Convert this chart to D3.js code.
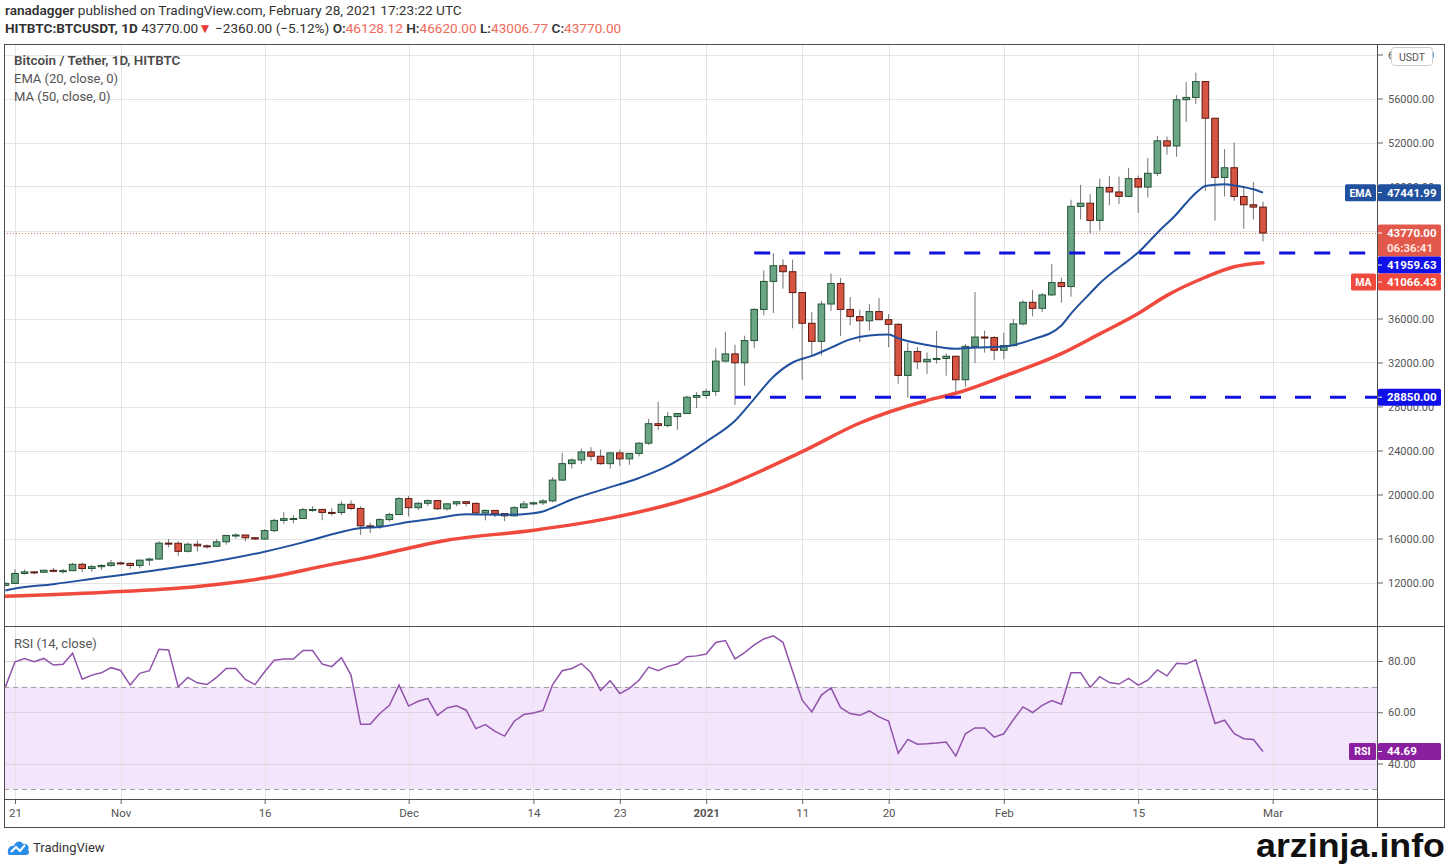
<!DOCTYPE html>
<html>
<head>
<meta charset="utf-8">
<script src="https://cdn.jsdelivr.net/npm/d3@7"></script>
<style>
  html, body { margin: 0; padding: 0; background: #fff; }
  svg { display: block; font-family: Roboto, "Open Sans", sans-serif; }
</style>
</head>
<body>
<svg id="chart" width="1450" height="864"></svg>
<script>
"use strict";

// ---- Data ----
// daily candles, 2020-10-20 .. 2021-02-28
var opens = [
  11742, 11916, 12823, 12965, 12931, 13108, 13031, 13075, 13654, 13271, 13437, 13546,
  13781, 13737, 13550, 14031, 14133, 15579, 15565, 14833, 15479, 15332, 15290, 15701, 16276, 16317, 16068, 15955, 16716, 17645, 17804, 17817, 18621, 18642, 18370, 18364, 19107, 18732, 17150, 17139, 17719, 18184,
  19625, 18802, 19202, 19445, 18699, 19154, 19346, 19191, 18321, 18553, 18264, 18058, 18803, 19142, 19246, 19417, 21310, 22805, 23138, 23869, 23477, 22803, 23783, 23241, 23735, 24664, 26437, 26272, 27084, 27362, 28841,
  29001, 29374, 32127, 32782, 31971, 33992, 36824, 39371, 40797, 40254, 38356, 35566, 33922, 37316, 39187, 36825, 36178, 35792, 36631, 35891, 35468, 30825, 33005, 32067, 32289, 32366, 32569, 30432, 33466, 34316, 34269,
  33114, 33537, 35510, 37472, 36926, 38144, 39266, 38903, 46196, 46481, 44918, 47909, 47504, 47105, 48717, 47945, 49199, 52149, 51679, 55888, 56099, 57539, 54207, 48824, 49705, 47093, 46339, 46128.12
];
var highs = [
  11999, 13217, 13185, 13027, 13160, 13330, 13235, 13775, 13837, 13612, 13663, 14060,
  13897, 13814, 14067, 14243, 15750, 15955, 15765, 15645, 15833, 15460, 15944, 16319, 16480, 16317, 16134, 16848, 17811, 18393, 18119, 18773, 18936, 18700, 18746, 19390, 19459, 18915, 17450, 17850, 18339, 19750,
  19863, 19283, 19555, 19500, 19178, 19412, 19400, 19296, 18640, 18569, 18285, 18948, 19411, 19349, 19570, 21560, 23800, 23285, 24170, 24295, 24102, 23842, 24100, 23770, 24760, 26880, 28422, 27500, 27400, 28996, 29300,
  29600, 33300, 34792, 33600, 34437, 36939, 40365, 41950, 41380, 41350, 38356, 36600, 37600, 40100, 39700, 37950, 36800, 37300, 37850, 36400, 35600, 33800, 33400, 32900, 34875, 32800, 32570, 33700, 38406, 34900, 34400,
  34700, 35950, 37650, 38600, 38300, 40955, 39700, 46800, 48142, 47310, 48700, 48950, 48900, 49700, 49000, 50600, 52600, 52550, 56300, 57500, 58350, 57539, 54207, 51400, 52000, 48000, 48400, 46620
];
var lows = [
  11690, 11900, 12717, 12733, 12903, 12915, 12800, 13063, 12932, 12983, 13145, 13426,
  13632, 13243, 13296, 13529, 14093, 15198, 14423, 14725, 14805, 15085, 15290, 15437, 15991, 15749, 15868, 15880, 16564, 17352, 17382, 17761, 18430, 17657, 18068, 18120, 18600, 16330, 16500, 16880, 17554, 18178,
  18001, 18585, 18945, 18600, 18550, 18925, 18928, 18205, 17650, 17950, 17575, 18021, 18721, 19000, 19050, 19300, 21230, 22350, 22750, 23060, 22700, 22350, 22600, 22700, 23460, 24520, 25850, 26100, 25880, 27320, 27850,
  28700, 28950, 32000, 28130, 29900, 33288, 36300, 36500, 38720, 35110, 30420, 32500, 32650, 36700, 34400, 35400, 33850, 34900, 35850, 33400, 30071, 28800, 31400, 30950, 31900, 30800, 29240, 29800, 31950, 32900, 32200,
  32300, 33450, 35370, 36200, 36600, 38050, 37446, 37990, 45000, 43727, 43990, 46300, 46400, 47060, 45600, 47000, 48950, 50900, 50700, 53860, 55500, 47600, 44900, 47100, 46700, 44150, 45000, 43006.77
];
var closes = [
  11916, 12823, 12965, 12931, 13108, 13031, 13075, 13654, 13271, 13437, 13546, 13781,
  13737, 13550, 14031, 14133, 15579, 15565, 14833, 15479, 15332, 15290, 15701, 16276, 16317, 16068, 15955, 16716, 17645, 17804, 17817, 18621, 18642, 18370, 18364, 19107, 18732, 17150, 17139, 17719, 18184, 19625,
  18802, 19202, 19445, 18699, 19154, 19346, 19191, 18321, 18553, 18264, 18058, 18803, 19142, 19246, 19417, 21310, 22805, 23138, 23869, 23477, 22803, 23783, 23241, 23735, 24664, 26437, 26272, 27084, 27362, 28841, 29001,
  29374, 32127, 32782, 31971, 33992, 36824, 39371, 40797, 40254, 38356, 35566, 33922, 37316, 39187, 36825, 36178, 35792, 36631, 35891, 35468, 30825, 33005, 32067, 32289, 32366, 32569, 30432, 33466, 34316, 34269, 33114,
  33537, 35510, 37472, 36926, 38144, 39266, 38903, 46196, 46481, 44918, 47909, 47504, 47105, 48717, 47945, 49199, 52149, 51679, 55888, 56099, 57539, 54207, 48824, 49705, 47093, 46339, 46128.12, 43770
];
// RSI (14, close), one value per candle
var rsiValues = [
  69.9, 79.7, 81, 79.7, 81, 78.4, 78.7, 83, 72.9, 74.5, 75.4, 77.4,
  76.3, 70.6, 75.2, 76.2, 84.6, 84.3, 69.9, 73.6, 71.5, 70.8, 73.6, 77.1, 77.1, 72.8, 70.8, 75.8, 80.3, 80.8, 80.8, 84.1, 84.1, 78.8, 77.8, 81.3, 74.5, 55.3, 55.3, 59.5, 62.7, 70.6,
  62.4, 64.3, 65.4, 58.8, 61.7, 62.5, 60.8, 53.6, 55.2, 52.5, 50.7, 56.5, 59.1, 59.7, 60.7, 70.8, 76.2, 77.1, 79, 75.4, 68.5, 72.3, 67.3, 69.3, 72.5, 77.6, 76.2, 77.9, 78.8, 81.7, 82,
  82.7, 87.2, 88, 80.8, 83.3, 86.3, 88.6, 89.8, 87.3, 76, 64.7, 60.1, 66.7, 69.5, 61.8, 59.5, 58.8, 60.5, 58.2, 56.6, 44, 49.4, 47.5, 47.7, 48, 48.4, 42.9, 51.6, 53.9, 53.9, 50.3,
  51.6, 57.1, 62.1, 59.9, 62.7, 64.6, 63.1, 75.4, 75.4, 69.7, 73.9, 71.6, 71, 73.2, 70.6, 72.5, 76.5, 74.2, 79.1, 78.8, 80.5, 68, 55.6, 56.9, 51.6, 49.7, 49.4, 44.69
];
// EMA (20) read at points along the blue line
var emaPoints = [
  ["2020-10-20", 11270], ["2020-10-21", 11450], ["2020-10-25", 11850], ["2020-10-30", 12450],
  ["2020-11-03", 12900], ["2020-11-05", 13150], ["2020-11-09", 13650], ["2020-11-16", 14800],
  ["2020-11-20", 15650], ["2020-11-24", 16600], ["2020-11-26", 16950], ["2020-11-28", 17050],
  ["2020-12-01", 17500], ["2020-12-04", 17850], ["2020-12-07", 18200], ["2020-12-11", 18150],
  ["2020-12-14", 18300], ["2020-12-15", 18450], ["2020-12-16", 18800], ["2020-12-18", 19550],
  ["2020-12-21", 20400], ["2020-12-25", 21500], ["2020-12-28", 22600], ["2020-12-31", 24200],
  ["2021-01-01", 24800], ["2021-01-04", 26700], ["2021-01-06", 28700], ["2021-01-08", 30700],
  ["2021-01-10", 32000], ["2021-01-12", 32600], ["2021-01-14", 33350], ["2021-01-16", 34100],
  ["2021-01-18", 34450], ["2021-01-20", 34550], ["2021-01-21", 34200], ["2021-01-24", 33600],
  ["2021-01-27", 33250], ["2021-01-29", 33360], ["2021-02-01", 33450], ["2021-02-04", 34100],
  ["2021-02-07", 35360], ["2021-02-08", 36450], ["2021-02-10", 38300], ["2021-02-11", 39200],
  ["2021-02-14", 41300], ["2021-02-15", 42000], ["2021-02-17", 43800], ["2021-02-19", 45500],
  ["2021-02-20", 46500], ["2021-02-21", 47400], ["2021-02-22", 48050], ["2021-02-23", 48150],
  ["2021-02-24", 48200], ["2021-02-25", 48100], ["2021-02-26", 47950], ["2021-02-27", 47750],
  ["2021-02-28", 47441.99]
];
// MA (50) read at points along the red line
var maPoints = [
  ["2020-10-20", 10750], ["2020-10-30", 11100], ["2020-11-09", 11640], ["2020-11-16", 12400],
  ["2020-11-23", 13650], ["2020-11-26", 14150], ["2020-12-05", 15850], ["2020-12-14", 16750],
  ["2020-12-22", 17850], ["2020-12-29", 19300], ["2021-01-01", 20100], ["2021-01-11", 23900],
  ["2021-01-17", 26500], ["2021-01-24", 28550], ["2021-01-27", 29200], ["2021-02-01", 30750],
  ["2021-02-07", 32800], ["2021-02-11", 34600], ["2021-02-15", 36450], ["2021-02-18", 38100],
  ["2021-02-22", 39750], ["2021-02-25", 40700], ["2021-02-28", 41066.43]
];
// drawn horizontal levels: [start date, price]
var levels = [["2021-01-06", 41959.63], ["2021-01-04", 28850]];
var lastPrice = 43770;
var countdown = "06:36:41";

var priceTicks = [12000, 16000, 20000, 24000, 28000, 32000, 36000, 40000, 44000, 48000, 52000, 56000, 60000];
var hiddenPriceLabels = [40000, 44000];   // covered by the price tags
var rsiTicks = [40, 60, 80];
var timeTickDates = ["2020-10-21", "2020-11-01", "2020-11-16", "2020-12-01", "2020-12-14", "2020-12-23",
                     "2021-01-01", "2021-01-11", "2021-01-20", "2021-02-01", "2021-02-15", "2021-03-01"];
var timeTickLabels = ["21", "Nov", "16", "Dec", "14", "23", "2021", "11", "20", "Feb", "15", "Mar"];

// ---- Layout ----
var left = 4, paneRight = 1377, right = 1445;
var mainTop = 44, mainBottom = 626, rsiBottom = 799, axisBottom = 827;

var parse = d3.utcParse("%Y-%m-%d");
var start = parse("2020-10-20"), end = parse("2021-02-28");
var days = d3.utcDay.range(start, d3.utcDay.offset(end, 1));

var x = d3.scaleUtc().domain([start, end]).range([5.4, 1263]);
var y = d3.scaleLinear().domain([12000, 56000]).range([582.5, 98.5]);
var yRsi = d3.scaleLinear().domain([40, 80]).range([763.5, 661]);
var fmt = d3.format(".2f");

var svg = d3.select("#chart");
var defs = svg.append("defs");
defs.append("clipPath").attr("id", "clipMain").append("rect")
    .attr("x", left).attr("y", mainTop).attr("width", paneRight - left).attr("height", mainBottom - mainTop);
defs.append("clipPath").attr("id", "clipRsi").append("rect")
    .attr("x", left).attr("y", mainBottom).attr("width", paneRight - left).attr("height", rsiBottom - mainBottom);

// ---- Header ----
var h1 = svg.append("text").attr("x", 5).attr("y", 15).attr("font-size", 13.6).attr("fill", "#333");
h1.append("tspan").attr("font-weight", 600).text("ranadagger");
h1.append("tspan").text(" published on TradingView.com, February 28, 2021 17:23:22 UTC");

var h2 = svg.append("text").attr("x", 5).attr("y", 33).attr("font-size", 13.6).attr("fill", "#333");
var redTxt = "#f0695a";
h2.append("tspan").attr("font-weight", 700).text("HITBTC:BTCUSDT, 1D");
h2.append("tspan").text(" " + fmt(lastPrice));
h2.append("tspan").attr("fill", "#e53935").text("\u25BC");
h2.append("tspan").text(" \u22122360.00 (\u22125.12%)");
[["O:", opens[opens.length - 1]], ["H:", highs[highs.length - 1]], ["L:", lows[lows.length - 1]], ["C:", closes[closes.length - 1]]]
  .forEach(function(p) {
    h2.append("tspan").attr("font-weight", 600).text(" " + p[0]);
    h2.append("tspan").attr("fill", redTxt).text(fmt(p[1]));
  });

// ---- Background panes ----
var gMain = svg.append("g").attr("clip-path", "url(#clipMain)");
var gRsi = svg.append("g").attr("clip-path", "url(#clipRsi)");

// RSI band
gRsi.append("rect")
    .attr("x", left).attr("width", paneRight - left)
    .attr("y", yRsi(70)).attr("height", yRsi(30) - yRsi(70))
    .attr("fill", "#f3e5fb");

// grid
var grid = "#e4e4e4";
gMain.selectAll("line.hg").data(priceTicks).join("line")
    .attr("x1", left).attr("x2", paneRight)
    .attr("y1", function(d) { return Math.round(y(d)) + 0.5; })
    .attr("y2", function(d) { return Math.round(y(d)) + 0.5; })
    .attr("stroke", grid);
gRsi.selectAll("line.hg").data(rsiTicks).join("line")
    .attr("x1", left).attr("x2", paneRight)
    .attr("y1", function(d) { return Math.round(yRsi(d)) + 0.5; })
    .attr("y2", function(d) { return Math.round(yRsi(d)) + 0.5; })
    .attr("stroke", "#dcd3e2");
[gMain, gRsi].forEach(function(g) {
  g.selectAll("line.vg").data(timeTickDates).join("line")
      .attr("x1", function(d) { return Math.round(x(parse(d))) + 0.5; })
      .attr("x2", function(d) { return Math.round(x(parse(d))) + 0.5; })
      .attr("y1", mainTop).attr("y2", rsiBottom)
      .attr("stroke", grid);
});
gRsi.selectAll("line.band").data([70, 30]).join("line")
    .attr("x1", left).attr("x2", paneRight)
    .attr("y1", function(d) { return Math.round(yRsi(d)) + 0.5; })
    .attr("y2", function(d) { return Math.round(yRsi(d)) + 0.5; })
    .attr("stroke", "#a3a3a3").attr("stroke-dasharray", "5,4");

// last price dotted line
gMain.append("line")
    .attr("x1", left).attr("x2", paneRight)
    .attr("y1", Math.round(y(lastPrice)) + 0.5).attr("y2", Math.round(y(lastPrice)) + 0.5)
    .attr("stroke", "#e0735b").attr("stroke-dasharray", "1,2");

// ---- Candles ----
var bars = days.map(function(d, i) {
  return { date: d, o: opens[i], h: highs[i], l: lows[i], c: closes[i] };
});
var bodyW = 6.6;
var cg = gMain.selectAll("g.candle").data(bars).join("g");
cg.append("line")
    .attr("x1", function(d) { return x(d.date); })
    .attr("x2", function(d) { return x(d.date); })
    .attr("y1", function(d) { return y(d.h); })
    .attr("y2", function(d) { return y(d.l); })
    .attr("stroke", "#737375").attr("stroke-width", 1);
cg.append("rect")
    .attr("x", function(d) { return x(d.date) - bodyW / 2; })
    .attr("width", bodyW)
    .attr("y", function(d) { return y(Math.max(d.o, d.c)); })
    .attr("height", function(d) { return Math.max(1, Math.abs(y(d.o) - y(d.c))); })
    .attr("fill", function(d) { return d.c >= d.o ? "#6ba583" : "#d75442"; })
    .attr("stroke", function(d) { return d.c >= d.o ? "#225437" : "#5b1a13"; })
    .attr("stroke-width", 1);

// ---- Moving averages ----
var maLine = d3.line()
    .x(function(d) { return x(parse(d[0])); })
    .y(function(d) { return y(d[1]); })
    .curve(d3.curveMonotoneX);
gMain.append("path").attr("d", maLine(maPoints))
    .attr("fill", "none").attr("stroke", "#ef4a3d").attr("stroke-width", 3.5).attr("stroke-linecap", "round");
gMain.append("path").attr("d", maLine(emaPoints))
    .attr("fill", "none").attr("stroke", "#21509e").attr("stroke-width", 2);

// dashed levels
gMain.selectAll("line.lvl").data(levels).join("line")
    .attr("x1", function(d) { return x(parse(d[0])); })
    .attr("x2", paneRight)
    .attr("y1", function(d) { return y(d[1]); })
    .attr("y2", function(d) { return y(d[1]); })
    .attr("stroke", "#1111dd").attr("stroke-width", 3).attr("stroke-dasharray", "16,19");

// ---- RSI line ----
var rsiLine = d3.line()
    .x(function(d, i) { return x(days[i]); })
    .y(function(d) { return yRsi(d); });
gRsi.append("path").attr("d", rsiLine(rsiValues))
    .attr("fill", "none").attr("stroke", "#9152ab").attr("stroke-width", 1.5);

// ---- Legends ----
svg.append("text").attr("x", 14).attr("y", 65).attr("font-size", 13.4).attr("font-weight", 600)
    .attr("fill", "#4a4a4a").text("Bitcoin / Tether, 1D, HITBTC");
svg.append("text").attr("x", 14).attr("y", 83).attr("font-size", 13).attr("fill", "#555")
    .text("EMA (20, close, 0)");
svg.append("text").attr("x", 14).attr("y", 101).attr("font-size", 13).attr("fill", "#555")
    .text("MA (50, close, 0)");
svg.append("text").attr("x", 14).attr("y", 648).attr("font-size", 13).attr("fill", "#555")
    .text("RSI (14, close)");

// ---- Frame ----
var frame = "#4d4d4d";
svg.append("rect").attr("x", left + 0.5).attr("y", mainTop + 0.5)
    .attr("width", right - left - 1).attr("height", axisBottom - mainTop)
    .attr("fill", "none").attr("stroke", frame);
svg.append("line").attr("x1", paneRight + 0.5).attr("x2", paneRight + 0.5)
    .attr("y1", mainTop).attr("y2", axisBottom).attr("stroke", frame);
svg.append("line").attr("x1", left).attr("x2", right)
    .attr("y1", mainBottom + 0.5).attr("y2", mainBottom + 0.5).attr("stroke", frame);
svg.append("line").attr("x1", left).attr("x2", right)
    .attr("y1", rsiBottom + 0.5).attr("y2", rsiBottom + 0.5).attr("stroke", frame);

// ---- Price axis ----
var yAxis = d3.axisRight(y).tickValues(priceTicks)
    .tickFormat(function(d) { return hiddenPriceLabels.indexOf(d) >= 0 ? "" : fmt(d); })
    .tickSize(5).tickPadding(5);
var ga = svg.append("g").attr("transform", "translate(" + (paneRight + 1) + ",0)").call(yAxis);
ga.select(".domain").remove();
ga.selectAll("line").attr("stroke", "#666");
ga.selectAll("text").attr("font-size", 11).attr("fill", "#555").attr("font-family", "Roboto, sans-serif");

var rAxis = d3.axisRight(yRsi).tickValues(rsiTicks).tickFormat(fmt).tickSize(5).tickPadding(5);
var gr = svg.append("g").attr("transform", "translate(" + (paneRight + 1) + ",0)").call(rAxis);
gr.select(".domain").remove();
gr.selectAll("line").attr("stroke", "#666");
gr.selectAll("text").attr("font-size", 11).attr("fill", "#555").attr("font-family", "Roboto, sans-serif");

// ---- Time axis ----
var xAxis = d3.axisBottom(x).tickValues(timeTickDates.map(parse))
    .tickFormat(function(d, i) { return timeTickLabels[i]; })
    .tickSize(4).tickPadding(5);
var gx = svg.append("g").attr("transform", "translate(0," + (rsiBottom + 1) + ")").call(xAxis);
gx.select(".domain").remove();
gx.selectAll("line").attr("stroke", "#666");
gx.selectAll("text").attr("font-size", 11.5).attr("fill", "#555").attr("font-family", "Roboto, sans-serif")
    .attr("font-weight", function(d, i) { return timeTickLabels[i] === "2021" ? 700 : 400; });

// USDT box
svg.append("rect").attr("x", 1391.5).attr("y", 47.5).attr("width", 41).attr("height", 18).attr("rx", 3)
    .attr("fill", "#fff").attr("stroke", "#cfcfcf");
svg.append("text").attr("x", 1412).attr("y", 60.5).attr("text-anchor", "middle")
    .attr("font-size", 10.5).attr("fill", "#555").text("USDT");

// ---- Price tags on the axis ----
var tags = [
  { price: emaPoints[emaPoints.length - 1][1], color: "#21509e", lines: [fmt(emaPoints[emaPoints.length - 1][1])], tag: "EMA", tw: 31 },
  { price: lastPrice, color: "#e2584a", lines: [fmt(lastPrice), countdown] },
  { price: levels[0][1], color: "#1010e8", lines: [fmt(levels[0][1])] },
  { price: maPoints[maPoints.length - 1][1], color: "#ef4a3d", lines: [fmt(maPoints[maPoints.length - 1][1])], tag: "MA", tw: 25 },
  { price: levels[1][1], color: "#1010e8", lines: [fmt(levels[1][1])] }
];
var prevBottom = -Infinity;
tags.sort(function(a, b) { return y(a.price) - y(b.price); });
tags.forEach(function(t) {
  var hgt = t.lines.length * 15 + 2;
  var top = Math.max(y(t.price) - 8.5, prevBottom);
  prevBottom = top + hgt;
  drawTag(top, hgt, t.color, t.lines, t.tag, t.tw);
});
drawTag(yRsi(rsiValues[rsiValues.length - 1]) - 8.5, 17, "#8a1f9f", [fmt(rsiValues[rsiValues.length - 1])], "RSI", 27);

function drawTag(top, hgt, color, lines, tag, tw) {
  var g = svg.append("g");
  g.append("rect").attr("x", paneRight + 1).attr("y", top).attr("width", 63).attr("height", hgt)
      .attr("rx", 1.5).attr("fill", color);
  g.append("line").attr("x1", paneRight + 1).attr("x2", paneRight + 5)
      .attr("y1", top + 8.5).attr("y2", top + 8.5).attr("stroke", "#fff");
  lines.forEach(function(s, k) {
    g.append("text").attr("x", paneRight + 10).attr("y", top + 12.5 + k * 15)
        .attr("font-size", 11.5).attr("font-weight", 700).attr("fill", k === 0 ? "#fff" : "#fde2de").text(s);
  });
  if (tag) {
    g.append("rect").attr("x", paneRight - 1 - tw).attr("y", top).attr("width", tw).attr("height", 17)
        .attr("rx", 1.5).attr("fill", color);
    g.append("text").attr("x", paneRight - 1 - tw / 2).attr("y", top + 12.5).attr("text-anchor", "middle")
        .attr("font-size", 10.5).attr("font-weight", 700).attr("fill", "#fff").text(tag);
  }
}

// ---- Footer ----
var logo = svg.append("g").attr("transform", "translate(8,839)");
logo.append("path").attr("d", "M0,14 C-1,9 3,6 6,7 C7,2 13,1 15,5 C19,4 22,8 20,11 C22,13 21,16 18,16 L2,16 C0,16 0,15 0,14 Z")
    .attr("fill", "#2a8ee8");
logo.append("path").attr("d", "M3,13 L8,8 L12,12 L17,6").attr("fill", "none").attr("stroke", "#fff").attr("stroke-width", 2);
svg.append("text").attr("x", 33).attr("y", 852).attr("font-size", 13).attr("fill", "#333").text("TradingView");

svg.append("text").attr("x", 1256).attr("y", 857)
    .attr("font-family", "'Liberation Sans Narrow', 'Liberation Sans', Arial, sans-serif")
    .attr("font-size", 34).attr("font-weight", 700).attr("fill", "#111")
    .attr("textLength", 189).attr("lengthAdjust", "spacingAndGlyphs")
    .text("arzinja.info");
</script>
</body>
</html>
